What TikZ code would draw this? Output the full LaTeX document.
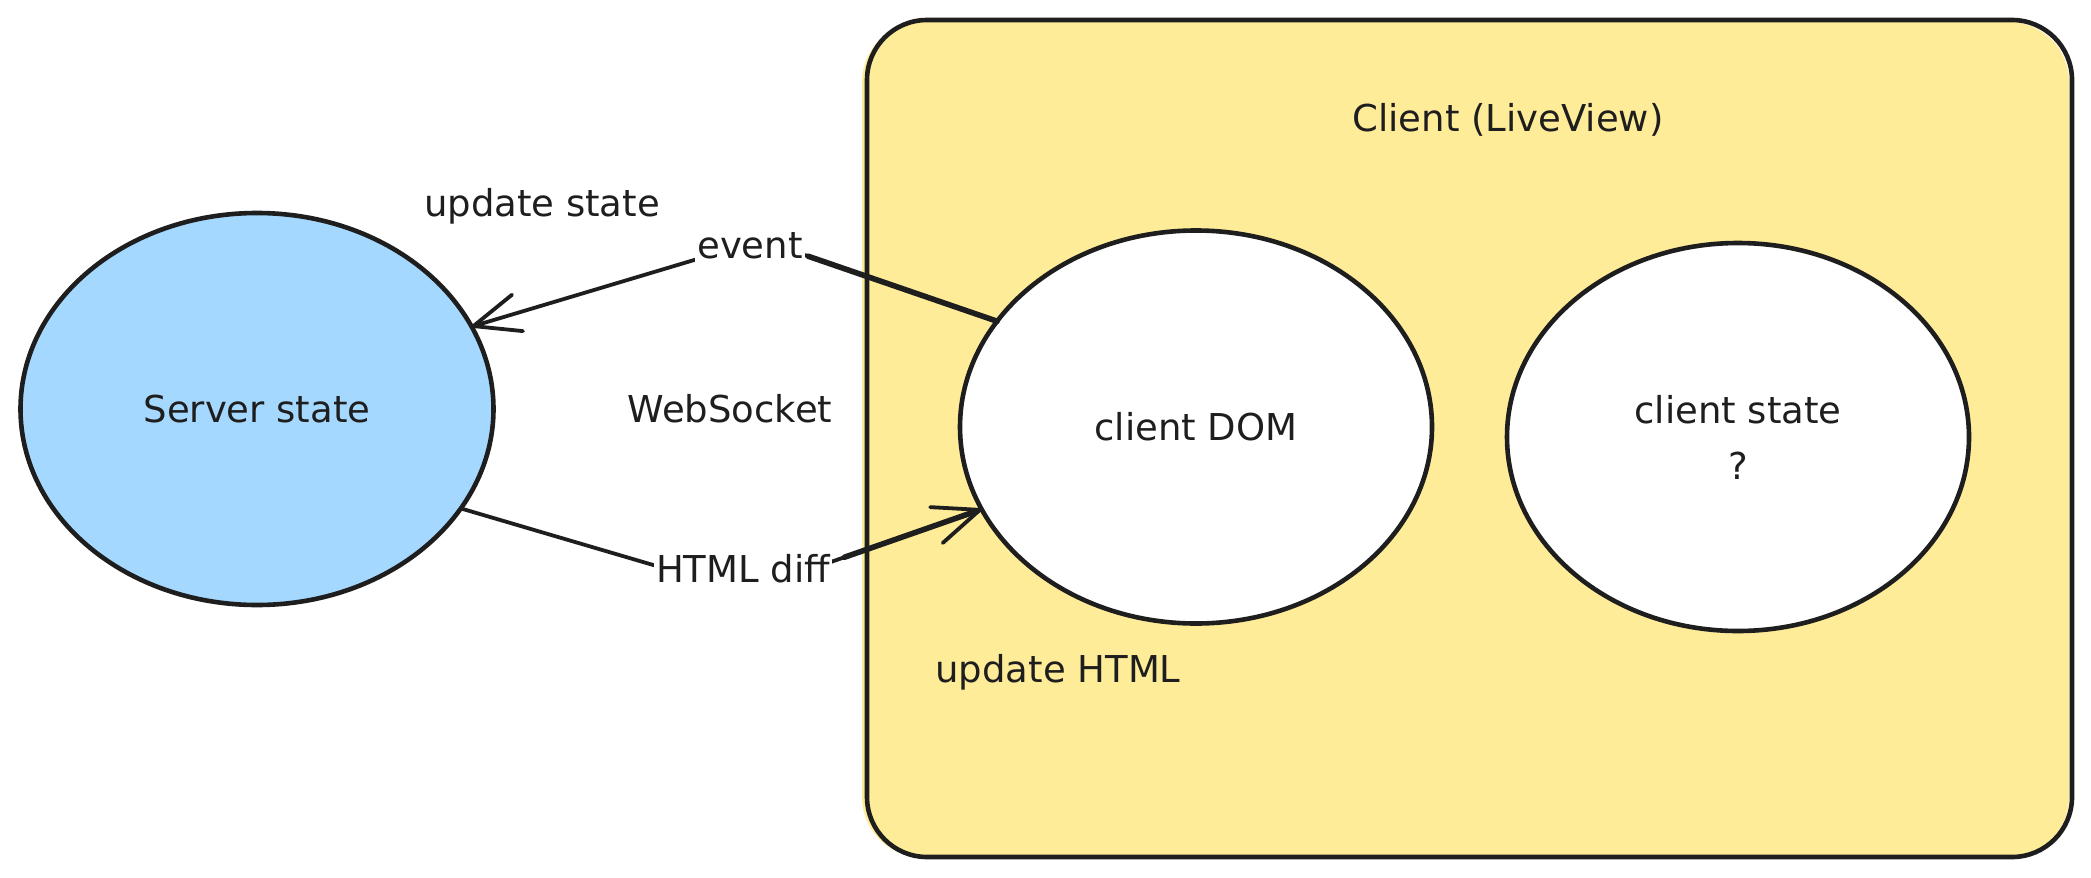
\documentclass[tikz,border=0pt]{standalone}
\usepackage{fontspec}
\setmainfont{DejaVu Sans}
\usetikzlibrary{shapes.geometric,arrows.meta,calc}
\definecolor{ink}{HTML}{1E1E1E}
\definecolor{paleyellow}{HTML}{FFEC99}
\definecolor{paleblue}{HTML}{A5D8FF}
\begin{document}
\begin{tikzpicture}[x=1pt,y=-1pt,
  every node/.style={font=\fontsize{37}{56}\selectfont, text=ink},
  bubble/.style={ellipse, draw=ink, line width=4.6pt, inner sep=0pt, outer sep=0pt},
  lbl/.style={inner sep=2pt, text height=27pt, text depth=9pt},
  flow/.style={draw=ink, line width=3.8pt, line cap=round, line join=round,
    -{Straight Barb[length=46pt,width=38pt,round]}},
  heavy/.style={draw=ink, line width=5.6pt, line cap=round},
]
\useasboundingbox (0,0) rectangle (2091,878);
\fill[white] (0,0) rectangle (2091,878);

% client frame
\fill[paleyellow, rounded corners=60pt] (862,22) rectangle (2069,857);
\draw[ink, line width=4.6pt, rounded corners=60pt] (867,20) rectangle (2072,857);
\node[lbl] (frame) at (1508,122) {Client (LiveView)};

% state bubbles
\node[bubble, fill=paleblue, minimum width=473pt, minimum height=392pt] (srv) at (257,409) {Server state};
\node[bubble, fill=white, minimum width=472pt, minimum height=393pt] (dom) at (1196,427) {client DOM};
\node[bubble, fill=white, minimum width=462pt, minimum height=388pt, align=center] (cst) at (1738,437) {client state\\?};

% websocket traffic
\coordinate (evbend) at (761,240);
\coordinate (dfbend) at (745,592);
\draw[flow] (dom.152) [rounded corners=48pt] -- (evbend) -- (srv.21);
\draw[flow] (srv.-26.5) [rounded corners=90pt] -- (dfbend) -- (dom.201);
% heavier strokes on the client-side halves
\draw[heavy] (dom.152) -- ($(dom.152)!0.8!(evbend)$);
\draw[heavy] ($(dfbend)!0.42!(dom.201)$) -- ($(dom.201)!4pt!(dfbend)$);

\node[lbl, fill=white] (ev) at (750,249) {event};
\node[lbl, fill=white] (hd) at (743,573) {HTML diff};
\node[lbl] (us) at (542,207) {update state};
\node[lbl] (ws) at (730,413) {WebSocket};
\node[lbl] (uh) at (1058,673) {update HTML};
\end{tikzpicture}
\end{document}
